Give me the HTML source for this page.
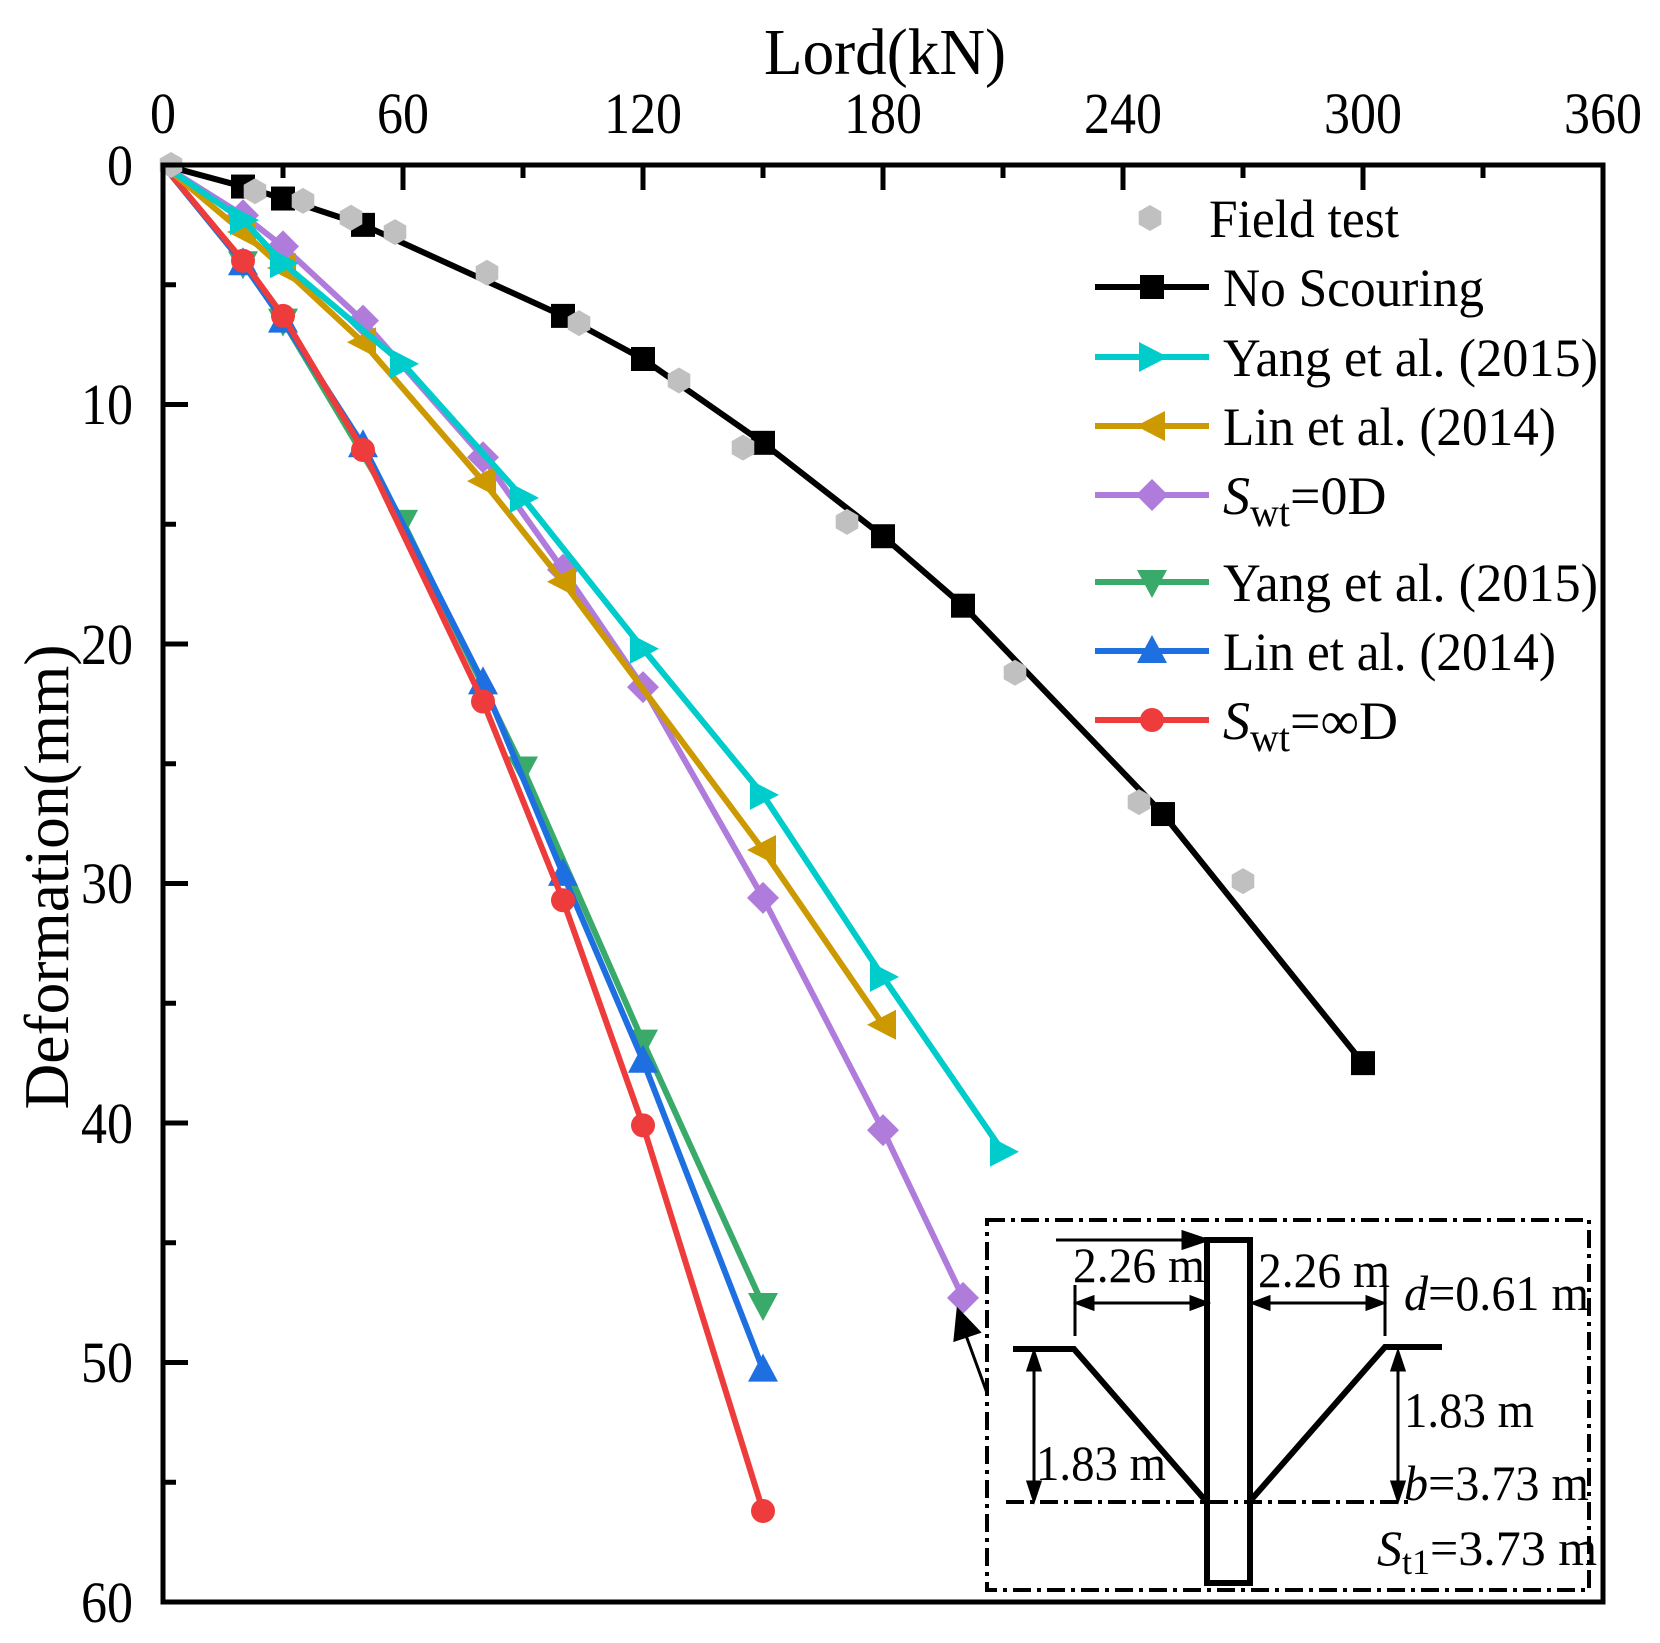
<!DOCTYPE html>
<html><head><meta charset="utf-8"><style>
html,body{margin:0;padding:0;background:#fff}
svg{display:block}
text{font-family:"Liberation Serif",serif;fill:#000}
</style></head><body>
<svg id="s" width="1660" height="1643" viewBox="0 0 1660 1643" xmlns="http://www.w3.org/2000/svg">
<rect width="1660" height="1643" fill="#fff"/>
<text x="885" y="74" font-size="66" text-anchor="middle" textLength="242" lengthAdjust="spacingAndGlyphs">Lord(kN)</text>
<g font-size="58" text-anchor="middle" lengthAdjust="spacingAndGlyphs">
<text x="163" y="133" textLength="26" lengthAdjust="spacingAndGlyphs">0</text><text x="403" y="133" textLength="52" lengthAdjust="spacingAndGlyphs">60</text><text x="643" y="133" textLength="78" lengthAdjust="spacingAndGlyphs">120</text><text x="883" y="133" textLength="78" lengthAdjust="spacingAndGlyphs">180</text><text x="1123" y="133" textLength="78" lengthAdjust="spacingAndGlyphs">240</text><text x="1363" y="133" textLength="78" lengthAdjust="spacingAndGlyphs">300</text><text x="1603" y="133" textLength="78" lengthAdjust="spacingAndGlyphs">360</text>
</g>
<g font-size="58" text-anchor="end">
<text x="133" y="185" textLength="26" lengthAdjust="spacingAndGlyphs">0</text><text x="133" y="424" textLength="52" lengthAdjust="spacingAndGlyphs">10</text><text x="133" y="664" textLength="52" lengthAdjust="spacingAndGlyphs">20</text><text x="133" y="903" textLength="52" lengthAdjust="spacingAndGlyphs">30</text><text x="133" y="1143" textLength="52" lengthAdjust="spacingAndGlyphs">40</text><text x="133" y="1382" textLength="52" lengthAdjust="spacingAndGlyphs">50</text><text x="133" y="1622" textLength="52" lengthAdjust="spacingAndGlyphs">60</text>
</g>
<text transform="translate(68,877) rotate(-90)" font-size="64" text-anchor="middle" textLength="465" lengthAdjust="spacingAndGlyphs">Deformation(mm)</text>
<g id="ticks" stroke="#000" stroke-width="5"></g>
<g id="series"></g>
<rect x="163" y="165" width="1440" height="1437" fill="none" stroke="#000" stroke-width="5"/>
<g id="leg"></g>
<g font-size="54">
<text x="1209" y="237" textLength="190" lengthAdjust="spacingAndGlyphs">Field test</text>
<text x="1223" y="306" textLength="261" lengthAdjust="spacingAndGlyphs">No Scouring</text>
<text x="1223" y="376" textLength="375" lengthAdjust="spacingAndGlyphs">Yang et al. (2015)</text>
<text x="1223" y="445" textLength="333" lengthAdjust="spacingAndGlyphs">Lin et al. (2014)</text>
<text x="1223" y="514"><tspan font-style="italic">S</tspan><tspan font-size="40" dy="12">wt</tspan><tspan dy="-12">=0D</tspan></text>
<text x="1223" y="601" textLength="375" lengthAdjust="spacingAndGlyphs">Yang et al. (2015)</text>
<text x="1223" y="670" textLength="333" lengthAdjust="spacingAndGlyphs">Lin et al. (2014)</text>
<text x="1223" y="739"><tspan font-style="italic">S</tspan><tspan font-size="40" dy="12">wt</tspan><tspan dy="-12">=∞D</tspan></text>
</g>
<rect x="987" y="1220" width="602" height="370" fill="#fff" stroke="#000" stroke-width="4" stroke-dasharray="18,6,4,6"/>
<line x1="1006" y1="1502" x2="1409" y2="1502" stroke="#000" stroke-width="4" stroke-dasharray="18,6,4,6"/>
<rect x="1207" y="1240" width="43" height="343" fill="none" stroke="#000" stroke-width="6"/>
<polyline points="1013,1349 1074,1349 1205,1500" fill="none" stroke="#000" stroke-width="6"/>
<polyline points="1251,1500 1385,1347 1442,1347" fill="none" stroke="#000" stroke-width="6"/>
<g stroke="#000" stroke-width="3" fill="#000">
<line x1="1056" y1="1240" x2="1190" y2="1240"/><polygon points="1207,1240 1183,1232 1183,1248"/>
<line x1="1075" y1="1285" x2="1075" y2="1336"/><line x1="1385" y1="1285" x2="1385" y2="1336"/>
<line x1="1090" y1="1303" x2="1195" y2="1303"/><polygon points="1077,1303 1093,1297 1093,1309"/><polygon points="1207,1303 1191,1297 1191,1309"/>
<line x1="1266" y1="1303" x2="1370" y2="1303"/><polygon points="1253,1303 1269,1297 1269,1309"/><polygon points="1383,1303 1367,1297 1367,1309"/>
<line x1="1034" y1="1368" x2="1034" y2="1484"/><polygon points="1034,1352 1028,1370 1040,1370"/><polygon points="1034,1500 1028,1482 1040,1482"/>
<line x1="1398" y1="1368" x2="1398" y2="1484"/><polygon points="1398,1352 1392,1370 1404,1370"/><polygon points="1398,1500 1392,1482 1404,1482"/>
<line x1="987" y1="1393" x2="964" y2="1330"/><polygon points="958,1310 955,1340 979,1332"/>
</g>
<g font-size="50">
<text x="1073" y="1282" textLength="132" lengthAdjust="spacingAndGlyphs">2.26 m</text>
<text x="1258" y="1287" textLength="132" lengthAdjust="spacingAndGlyphs">2.26 m</text>
<text x="1404" y="1310" textLength="185" lengthAdjust="spacingAndGlyphs"><tspan font-style="italic">d</tspan>=0.61 m</text>
<text x="1404" y="1427" textLength="130" lengthAdjust="spacingAndGlyphs">1.83 m</text>
<text x="1036" y="1480" textLength="130" lengthAdjust="spacingAndGlyphs">1.83 m</text>
<text x="1404" y="1500" textLength="185" lengthAdjust="spacingAndGlyphs"><tspan font-style="italic">b</tspan>=3.73 m</text>
<text x="1377" y="1565"><tspan font-style="italic">S</tspan><tspan font-size="36" dy="9">t1</tspan><tspan dy="-9">=3.73 m</tspan></text>
</g>
</svg>
<script>
var NS="http://www.w3.org/2000/svg";
function X(v){return 163+v*4}function Y(v){return 165+v*23.95}
function el(p,t,a){var e=document.createElementNS(NS,t);for(var k in a)e.setAttribute(k,a[k]);p.appendChild(e);return e}
var tk=document.getElementById('ticks');
for(var v=30;v<360;v+=30){var L=(v%60==0)?25:13;el(tk,'line',{x1:X(v),y1:165,x2:X(v),y2:165+L})}
for(var v=5;v<60;v+=5){var L=(v%10==0)?25:13;el(tk,'line',{x1:163,y1:Y(v),x2:163+L,y2:Y(v)})}
function marker(g,t,x,y,c){var s=12;
 if(t=='sq')el(g,'rect',{x:x-s,y:y-s,width:2*s,height:2*s,fill:c});
 else if(t=='ci')el(g,'circle',{cx:x,cy:y,r:12,fill:c});
 else if(t=='di')el(g,'polygon',{points:[x,y-16,x+16,y,x,y+16,x-16,y].join(' '),fill:c});
 else if(t=='tr')el(g,'polygon',{points:[x+16,y,x-13,y-15,x-13,y+15].join(' '),fill:c});
 else if(t=='tl')el(g,'polygon',{points:[x-16,y,x+13,y-15,x+13,y+15].join(' '),fill:c});
 else if(t=='tu')el(g,'polygon',{points:[x,y-16,x+15,y+12,x-15,y+12].join(' '),fill:c});
 else if(t=='td')el(g,'polygon',{points:[x,y+16,x+15,y-12,x-15,y-12].join(' '),fill:c});
 else if(t=='hx'){var p=[];for(var i=0;i<6;i++){var a=Math.PI/3*i+Math.PI/6;p.push((x+13*Math.cos(a)).toFixed(1)+','+(y+13*Math.sin(a)).toFixed(1))}el(g,'polygon',{points:p.join(' '),fill:c})}
}
var S=[
['#3aaa6a','td',[[0,0],[20,4.1],[30,6.5],[60,14.9],[90,25.2],[120,36.6],[150,47.6]]],
['#1e6fe0','tu',[[0,0],[20,4.1],[30,6.5],[50,11.7],[80,21.6],[100,29.6],[120,37.4],[150,50.3]]],
['#ee3b3b','ci',[[0,0],[20,4.0],[30,6.3],[50,11.9],[80,22.4],[100,30.7],[120,40.1],[150,56.2]]],
['#b07cdc','di',[[0,0],[20,2.1],[30,3.4],[50,6.5],[80,12.2],[100,16.9],[120,21.8],[150,30.6],[180,40.3],[200,47.3]]],
['#cc9900','tl',[[0,0],[20,2.8],[30,4.3],[50,7.4],[80,13.2],[100,17.4],[150,28.6],[180,35.9]]],
['#00cccc','tr',[[0,0],[20,2.3],[30,4.1],[60,8.3],[90,13.9],[120,20.2],[150,26.3],[180,33.9],[210,41.2]]],
['#000','sq',[[0,0],[20,0.9],[30,1.4],[50,2.5],[100,6.3],[120,8.1],[150,11.6],[180,15.5],[200,18.4],[250,27.1],[300,37.5]]]
];
var sg=document.getElementById('series');
S.forEach(function(s){var pts=s[2].map(function(p){return X(p[0])+','+Y(p[1])}).join(' ');
 el(sg,'polyline',{points:pts,fill:'none',stroke:s[0],'stroke-width':6,'stroke-linejoin':'round'});
 s[2].forEach(function(p,i){if(i>0)marker(sg,s[1],X(p[0]),Y(p[1]),s[0])});});
[[2,0],[23,1.1],[35,1.5],[47,2.2],[58,2.8],[81,4.5],[104,6.6],[129,9.0],[145,11.8],[171,14.9],[213,21.2],[244,26.6],[270,29.9]].forEach(function(p){marker(sg,'hx',X(p[0]),Y(p[1]),'#c0c0c0')});
var lg=document.getElementById('leg');
marker(lg,'hx',1150,218,'#c0c0c0');
var L=[[287,'#000','sq'],[357,'#00cccc','tr'],[426,'#cc9900','tl'],[495,'#b07cdc','di'],[582,'#3aaa6a','td'],[651,'#1e6fe0','tu'],[720,'#ee3b3b','ci']];
L.forEach(function(l){el(lg,'line',{x1:1095,y1:l[0],x2:1209,y2:l[0],stroke:l[1],'stroke-width':6});marker(lg,l[2],1152,l[0],l[1])});
</script>
</body></html>
